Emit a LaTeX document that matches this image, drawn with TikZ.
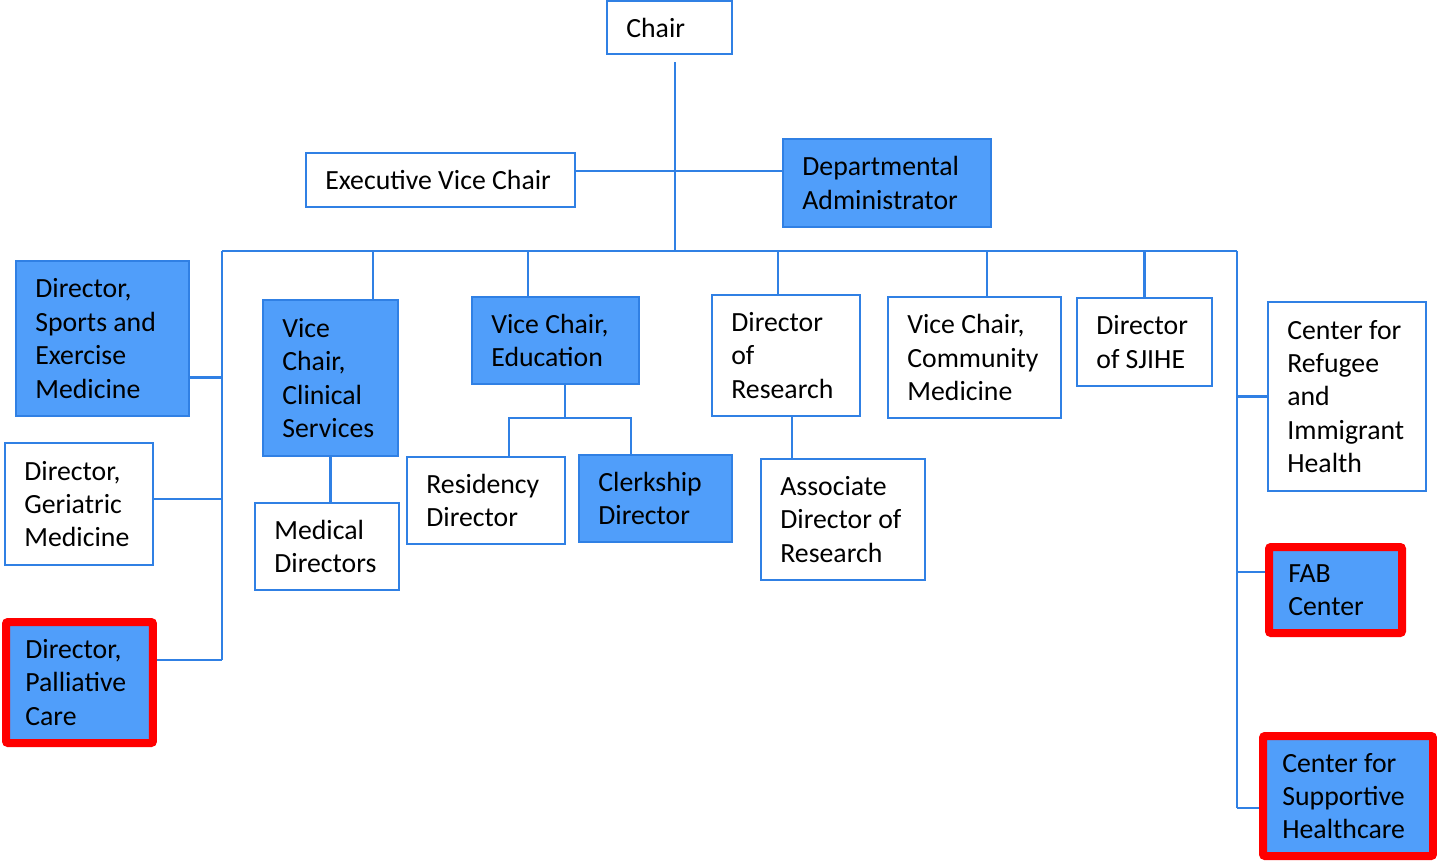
\documentclass[tikz,border=0pt]{standalone}
\usepackage{fontspec}
\setmainfont{Carlito}
\definecolor{boxblue}{RGB}{80,158,250}
\definecolor{lineblue}{RGB}{48,128,228}
\definecolor{markred}{RGB}{255,0,0}

\begin{document}
\begin{tikzpicture}[x=0.02cm, y=-0.02cm, %1 unidade = 1 pixel da figura
	wbox/.style={draw=lineblue, line width=0.04cm, fill=white},
	bbox/.style={draw=lineblue, line width=0.04cm, fill=boxblue},
	rbox/.style={draw=markred, line width=0.16cm, fill=boxblue, rounded corners=0.04cm},
	txt/.style={anchor=west, align=left, inner sep=0pt, xshift=0.4cm, font=\fontsize{15.8}{19}\selectfont},
	rtxt/.style={txt, xshift=0.06cm},
	conn/.style={draw=lineblue, line width=0.055cm}]
	\useasboundingbox (0,0) rectangle (1437,860); %Margens da figura
		%Topo
	\node[wbox, minimum width=2.5cm, minimum height=1.06cm] (chair) at (669.5,27.5) {};
	\node[txt] (chair-t) at (chair.west) {Chair};
	\node[wbox, minimum width=5.38cm, minimum height=1.08cm] (evc) at (440.5,180) {};
	\node[txt] (evc-t) at (evc.west) {Executive Vice Chair};
	\node[bbox, minimum width=4.16cm, minimum height=1.76cm] (admin) at (887,183) {};
	\node[txt] (admin-t) at (admin.west) {Departmental\\Administrator};
		%Coluna da esquerda
	\node[bbox, minimum width=3.46cm, minimum height=3.1cm] (sports) at (102.5,338.5) {};
	\node[txt] (sports-t) at (sports.west) {Director,\\Sports and\\Exercise\\Medicine};
	\node[wbox, minimum width=2.96cm, minimum height=2.44cm] (geri) at (79,504) {};
	\node[txt] (geri-t) at (geri.west) {Director,\\Geriatric\\Medicine};
	\node[rbox, minimum width=2.94cm, minimum height=2.42cm] (pall) at (79.5,682.5) {};
	\node[rtxt] (pall-t) at (pall.west) {Director,\\Palliative\\Care};
		%Linha do meio
	\node[bbox, minimum width=2.7cm, minimum height=3.12cm] (vcc) at (330.5,378) {};
	\node[txt] (vcc-t) at (vcc.west) {Vice\\Chair,\\Clinical\\Services};
	\node[wbox, minimum width=2.88cm, minimum height=1.74cm] (meddir) at (327,546.5) {};
	\node[txt] (meddir-t) at (meddir.west) {Medical\\Directors};
	\node[bbox, minimum width=3.34cm, minimum height=1.74cm] (vce) at (555.5,340.5) {};
	\node[txt] (vce-t) at (vce.west) {Vice Chair,\\Education};
	\node[wbox, minimum width=3.16cm, minimum height=1.74cm] (resdir) at (486,500.5) {};
	\node[txt] (resdir-t) at (resdir.west) {Residency\\Director};
	\node[bbox, minimum width=3.06cm, minimum height=1.74cm] (clerk) at (655.5,498.5) {};
	\node[txt] (clerk-t) at (clerk.west) {Clerkship\\Director};
	\node[wbox, minimum width=2.96cm, minimum height=2.42cm] (dres) at (786,355.5) {};
	\node[txt] (dres-t) at (dres.west) {Director\\of\\Research};
	\node[wbox, minimum width=3.28cm, minimum height=2.42cm] (assoc) at (843,519.5) {};
	\node[txt] (assoc-t) at (assoc.west) {Associate\\Director of\\Research};
	\node[wbox, minimum width=3.46cm, minimum height=2.42cm] (vccm) at (974.5,357.5) {};
	\node[txt] (vccm-t) at (vccm.west) {Vice Chair,\\Community\\Medicine};
	\node[wbox, minimum width=2.7cm, minimum height=1.76cm] (sjihe) at (1144.5,342) {};
	\node[txt] (sjihe-t) at (sjihe.west) {Director\\of SJIHE};
		%Coluna da direita
	\node[wbox, minimum width=3.16cm, minimum height=3.78cm] (refugee) at (1347,396.5) {};
	\node[txt] (refugee-t) at (refugee.west) {Center for\\Refugee\\and\\Immigrant\\Health};
	\node[rbox, minimum width=2.66cm, minimum height=1.72cm] (fab) at (1335.5,590) {};
	\node[rtxt] (fab-t) at (fab.west) {FAB\\Center};
	\node[rbox, minimum width=3.4cm, minimum height=2.4cm] (csh) at (1348,796) {};
	\node[rtxt] (csh-t) at (csh.west) {Center for\\Supportive\\Healthcare};
		%Pontos das linhas
	\coordinate (trunk) at (675,62);
	\coordinate (mid) at (675,171);
	\coordinate (busC) at (675,251);
	\coordinate (busL) at (222,251);
	\coordinate (busR) at (1237,251);
	\coordinate (leftend) at (222,660);
	\coordinate (rightend) at (1237,808);
	\coordinate (edu) at (565,418);
		%Conexoes
	\draw[conn] (trunk) -- (busC);
	\draw[conn] (mid -| evc.east) -- (mid -| admin.west);
	\draw[conn] (busL) -- (busR);
	\draw[conn] (busL) -- (leftend);
	\draw[conn] (busR) -- (rightend);
	\draw[conn] (sports.east) ++(0,39) coordinate (s1) -- (s1 -| busL);
	\draw[conn] (geri.east) ++(0,-5) coordinate (g1) -- (g1 -| busL);
	\draw[conn] (pall.east) ++(0,-22.5) coordinate (p1) -- (p1 -| busL);
	\draw[conn] (vcc.north) ++(42.5,0) coordinate (v1) -- (v1 |- busC);
	\draw[conn] (vcc.south) -- (vcc.south |- meddir.north);
	\draw[conn] (vce.north) ++(-27.5,0) coordinate (e1) -- (e1 |- busC);
	\draw[conn] (vce.south -| edu) -- (edu);
	\draw[conn] (resdir.north) ++(23,0) coordinate (r1) (clerk.north) ++(-24.5,0) coordinate (c1);
	\draw[conn] (r1) -- (r1 |- edu) -- (c1 |- edu) -- (c1);
	\draw[conn] (dres.north) ++(-8,0) coordinate (d0) -- (d0 |- busC);
	\draw[conn] (dres.south) ++(6,0) coordinate (d1) -- (d1 |- assoc.north);
	\draw[conn] (vccm.north) ++(12.5,0) coordinate (m1) -- (m1 |- busC);
	\draw[conn] (sjihe.north) -- (sjihe.north |- busC);
	\draw[conn] (refugee.west) -- (refugee.west -| busR);
	\draw[conn] (fab.west) ++(0,-18) coordinate (f1) -- (f1 -| busR);
	\draw[conn] (csh.west) ++(0,12) coordinate (h1) -- (h1 -| busR);
\end{tikzpicture}
\end{document}
